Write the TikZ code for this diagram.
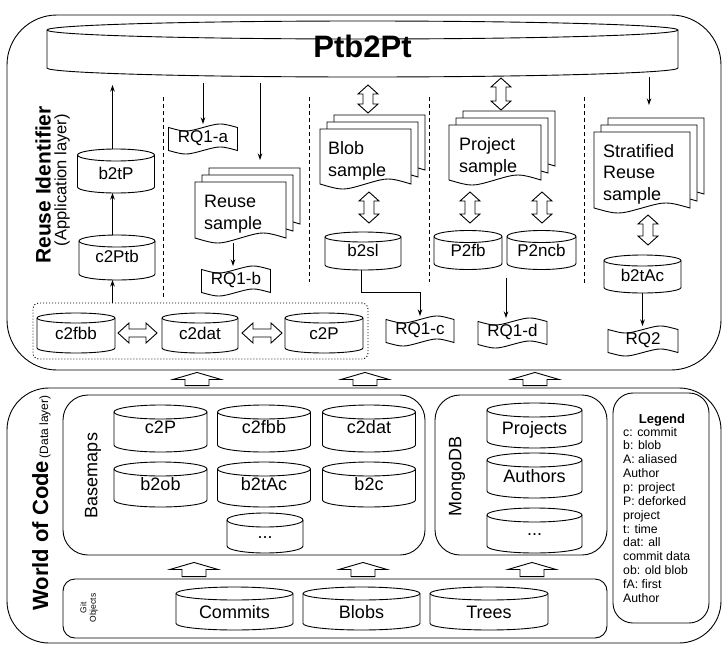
\documentclass[tikz,border=0pt]{standalone}
\usepackage{fontspec}
\setmainfont{Liberation Sans}
\usetikzlibrary{calc,arrows.meta}

\tikzset{
  lw/.style={line width=0.9pt},
  cylnode/.style={draw=none, inner sep=0pt, outer sep=0pt, rectangle},
  cyltext/.style={inner sep=0pt, text height=0.716em, text depth=0pt, anchor=center},
  appfont/.style={font=\fontsize{17}{20}\selectfont},
  datafont/.style={font=\fontsize{18}{21.7}\selectfont},
  arr/.style={line width=0.9pt, -{Stealth[length=6.5pt,width=4.5pt]}},
  hollow/.style={line width=0.9pt, fill=white, line join=miter},
  sepline/.style={line width=0.9pt, dash pattern=on 4pt off 3pt},
  bigbox/.style={draw, line width=0.9pt, rectangle, inner sep=0pt},
  doctext/.style={font=\fontsize{18}{21.7}\selectfont, align=left, anchor=north west, inner sep=0pt},
}

% cylinder: name, cx, cy, w, h, ry, text dy, style, text
\newcommand{\mydbcyl}[9]{%
  \node[cylnode, minimum width={#4*1pt}, minimum height={#5*1pt}] (#1) at (#2,#3) {};
  \filldraw[lw, fill=white] ({#2-#4/2},{#3-#5/2+#6}) -- ({#2-#4/2},{#3+#5/2-#6})
     arc[start angle=180, end angle=360, x radius={#4*0.5pt}, y radius={#6*1pt}]
     -- ({#2+#4/2},{#3-#5/2+#6})
     arc[start angle=0, end angle=180, x radius={#4*0.5pt}, y radius={#6*1pt}] -- cycle;
  \draw[lw] ({#2-#4/2},{#3-#5/2+#6}) arc[start angle=180, end angle=360, x radius={#4*0.5pt}, y radius={#6*1pt}];
  \node[cyltext, #8] (#1-t) at (#2,{#3+#7}) {#9};
}
% document sheet: x, y, w, h
\newcommand{\mydocsheet}[4]{%
  \filldraw[lw, fill=white] ({#1},{#2}) -- ({#1+#3},{#2}) -- ({#1+#3},{#2+#4-5})
    .. controls ({#1+0.75*#3},{#2+#4-11.7}) .. ({#1+0.5*#3},{#2+#4-5})
    .. controls ({#1+0.25*#3},{#2+#4+1.7}) .. ({#1},{#2+#4-5}) -- cycle;}
% multi document: name, x, y, w, h of front sheet
\newcommand{\mymultidoc}[5]{%
  \mydocsheet{#2+14}{#3-14}{#4}{#5}
  \mydocsheet{#2+7}{#3-7}{#4}{#5}
  \mydocsheet{#2}{#3}{#4}{#5}
  \node[cylnode, minimum width={(#4+14)*1pt}, minimum height={(#5+14)*1pt}] (#1) at ({#2+(#4+14)/2},{#3-14+(#5+14)/2}) {};}
% tape: name, cx, cy, w, text
\newcommand{\mytape}[5]{%
  \filldraw[lw, fill=white] ({#2-#4/2},{#3-11.5}) .. controls ({#2-#4/4},{#3-6.8}) .. ({#2},{#3-11.5})
    .. controls ({#2+#4/4},{#3-16.2}) .. ({#2+#4/2},{#3-11.5}) -- ({#2+#4/2},{#3+11.5})
    .. controls ({#2+#4/4},{#3+6.8}) .. ({#2},{#3+11.5})
    .. controls ({#2-#4/4},{#3+16.2}) .. ({#2-#4/2},{#3+11.5}) -- cycle;
  \node[cylnode, minimum width={#4*1pt}, minimum height=30pt, appfont, text height=0.716em, text depth=0pt] (#1) at (#2,#3) {#5};}
% vertical hollow double arrow: top tip, bottom tip
\newcommand{\myvdbl}[2]{%
  \filldraw[hollow] let \p1=(#1), \p2=(#2) in
    (\x1,\y1) -- (\x1+10pt,\y1-9pt) -- (\x1+5pt,\y1-9pt) -- (\x1+5pt,\y2+9pt) -- (\x1+10pt,\y2+9pt)
    -- (\x1,\y2) -- (\x1-10pt,\y2+9pt) -- (\x1-5pt,\y2+9pt) -- (\x1-5pt,\y1-9pt) -- (\x1-10pt,\y1-9pt) -- cycle;}
% horizontal hollow double arrow: left tip, right tip
\newcommand{\myhdbl}[2]{%
  \filldraw[hollow] let \p1=(#1), \p2=(#2) in
    (\x1,\y1) -- (\x1+11pt,\y1+10pt) -- (\x1+11pt,\y1+4pt) -- (\x2-11pt,\y1+4pt) -- (\x2-11pt,\y1+10pt)
    -- (\x2,\y1) -- (\x2-11pt,\y1-10pt) -- (\x2-11pt,\y1-4pt) -- (\x1+11pt,\y1-4pt) -- (\x1+11pt,\y1-10pt) -- cycle;}
% hollow up arrow: bottom point, top point
\newcommand{\myuparr}[2]{%
  \filldraw[hollow] let \p1=(#1), \p2=(#2) in
    (\x2,\y2-2pt) -- (\x2+24pt,\y2-9pt) -- (\x2+12pt,\y2-9pt) -- (\x2+12pt,\y1+2pt)
    -- (\x2-12pt,\y1+2pt) -- (\x2-12pt,\y2-9pt) -- (\x2-24pt,\y2-9pt) -- cycle;}

\begin{document}
\begin{tikzpicture}[x=1pt,y=-1pt]
\useasboundingbox (0,0) rectangle (726,651);

% ---------- containers ----------
\node[bigbox, rounded corners=50pt, minimum width=714pt, minimum height=355pt] (ri) at (364,192.5) {};
\node[bigbox, rounded corners=42pt, minimum width=714pt, minimum height=255pt] (woc) at (364,515.5) {};
\node[bigbox, rounded corners=25pt, minimum width=362pt, minimum height=160pt] (basemaps) at (244,475) {};
\node[bigbox, rounded corners=25pt, minimum width=172pt, minimum height=160pt] (mongo) at (521,475) {};
\node[bigbox, rounded corners=20pt, minimum width=96pt, minimum height=230pt] (legendbox) at (661,508) {};
\node[bigbox, rounded corners=12pt, minimum width=544pt, minimum height=59pt] (gitobj) at (335,608.5) {};
\node[bigbox, rounded corners=6pt, dash pattern=on 1pt off 2pt, minimum width=335pt, minimum height=56pt] (grp) at (200.5,331) {};

% ---------- layer labels ----------
\node[rotate=90, font=\fontsize{21}{25}\selectfont\bfseries] (rilabel) at (43,185) {Reuse Identifier};
\node[rotate=90, font=\fontsize{16.5}{20}\selectfont] (rilabel2) at (62,180) {(Application layer)};
\node[rotate=90] (woclabel) at (41.5,503) {{\fontsize{22}{26}\selectfont\bfseries World of Code} {\fontsize{12}{14}\selectfont(Data layer)}};
\node[rotate=90, datafont] (bmlabel) at (93,475.5) {Basemaps};
\node[rotate=90, datafont] (mglabel) at (457,476) {MongoDB};
\node[rotate=90, align=center, font=\fontsize{8.5}{9.5}\selectfont] (gitlabel) at (89,608) {Git\\Objects};

% ---------- separators ----------
\draw[sepline] (163,97) -- (163,298);
\draw[sepline] (309,97) -- (309,282);
\draw[sepline] (429,97) -- (429,282);
\draw[sepline] (584,97) -- (584,283);

% ---------- application layer ----------
\mydbcyl{ptb}{362.5}{49}{631}{56}{9}{5}{font=\fontsize{31}{36}\selectfont\bfseries}{Ptb2Pt}

\mydbcyl{btp}{116}{171}{77}{44}{6}{4.5}{appfont}{b2tP}
\mydbcyl{cptb}{117}{257.5}{76}{45}{6}{1.5}{appfont}{c2Ptb}
\mydbcyl{cfbb}{76}{333}{78}{40}{5}{2.5}{appfont}{c2fbb}
\mydbcyl{cdat}{200}{333}{76}{40}{5}{2.5}{appfont}{c2dat}
\mydbcyl{cp}{324}{333}{78}{40}{5}{2.5}{appfont}{c2P}
\mydbcyl{bsl}{363}{251}{76}{38}{5}{2.3}{appfont}{b2sl}
\mydbcyl{pfb}{468}{250}{68}{39}{6}{3}{appfont}{P2fb}
\mydbcyl{pncb}{541.5}{250}{69}{39}{6}{3}{appfont}{P2ncb}
\mydbcyl{btac}{642.5}{274}{77}{38}{5.5}{4}{appfont}{b2tAc}

\mymultidoc{reuse}{195}{182}{91}{61}
\mymultidoc{blob}{320}{129}{91}{60}
\mymultidoc{project}{449}{125}{92}{60}
\mymultidoc{strat}{594}{132}{96}{81}
\node[doctext] (reuse-t) at (204,195) {Reuse\\sample};
\node[doctext] (blob-t) at (328,141.7) {Blob\\sample};
\node[doctext] (project-t) at (459,137.7) {Project\\sample};
\node[doctext] (strat-t) at (603,144) {Stratified\\Reuse\\sample};

\mytape{rqa}{203}{139}{69}{RQ1-a}
\mytape{rqb}{236}{281}{69}{RQ1-b}
\mytape{rqc}{420}{331}{68}{RQ1-c}
\mytape{rqd}{512.5}{333}{69}{RQ1-d}
\mytape{rqtwo}{643}{341}{70}{RQ2}

% thin arrows
\draw[arr] ([xshift=-3.5pt]btp.north) -- ($(ptb.south -| btp.north)+(-3.5,8)$);
\draw[arr] ([xshift=-4.5pt]cptb.north) -- ([xshift=-3.5pt]btp.south);
\draw[arr] ($(grp.north -| cptb.south)+(-4.5,0)$) -- ([xshift=-4.5pt]cptb.south);
\draw[arr] ($(ptb.south -| rqa.north)+(0,6)$) -- (rqa.north);
\draw[arr] ($(ptb.south -| reuse.north)+(12.5,6)$) -- ([xshift=12.5pt,yshift=8pt]reuse.north);
\draw[arr] ([xshift=-14.5pt]reuse.south) -- ($(rqb.north)+(-3,0)$);
\draw[arr] ([xshift=-2pt]bsl.south) -- ++(0,22) -| (rqc.north);
\coordinate (pd) at ($(pfb.south east)!0.5!(pncb.south west)+(1.5,8)$);
\draw[arr] (pd) -- (pd |- rqd.north);
\draw[arr] (ptb.south -| strat.north) -- ([yshift=13pt]strat.north);
\draw[arr] (btac.south) -- (btac.south |- rqtwo.north);

% hollow double arrows
\myvdbl{$(ptb.south -| blob.north)+(-4.5,8)$}{$(blob.north)+(-4.5,-2)$}
\myvdbl{$(blob.south)+(-3.5,3)$}{$(bsl.north)+(6,-9)$}
\myvdbl{$(ptb.south -| project.north)+(-1,1)$}{$(project.north)+(-1,-1)$}
\myvdbl{$(project.south -| pfb.north)+(2,7)$}{$(pfb.north)+(2,-7.5)$}
\myvdbl{$(project.south -| pncb.north)+(0.5,7)$}{$(pncb.north)+(0.5,-7.5)$}
\myvdbl{$(strat.south)+(-1,2)$}{$(btac.north)+(5.5,-10)$}
\myhdbl{$(cfbb.east)+(3,0)$}{$(cdat.west)+(-5,0)$}
\myhdbl{$(cdat.east)+(4,0)$}{$(cp.west)+(-3,0)$}

% ---------- data layer ----------
\mydbcyl{dcp}{160.5}{428.5}{93}{47}{7}{1.5}{datafont}{c2P}
\mydbcyl{dcfbb}{264}{428.5}{93}{47}{7}{1.5}{datafont}{c2fbb}
\mydbcyl{dcdat}{369}{428.5}{93}{47}{7}{1.5}{datafont}{c2dat}
\mydbcyl{dbob}{160.5}{484.5}{93}{45}{7}{2}{datafont}{b2ob}
\mydbcyl{dbtac}{264}{484.5}{93}{45}{7}{2}{datafont}{b2tAc}
\mydbcyl{dbc}{369}{484.5}{93}{45}{7}{2}{datafont}{b2c}
\mydbcyl{ddots}{265}{533}{76}{40}{7}{2.3}{datafont}{...}
\mydbcyl{proj}{534.5}{425.5}{95}{45}{7}{5}{datafont}{Projects}
\mydbcyl{auth}{534.5}{475.5}{95}{45}{7}{3}{datafont}{Authors}
\mydbcyl{mdots}{534.5}{530.5}{95}{45}{7}{1}{datafont}{...}
\mydbcyl{commits}{234.5}{608.5}{117}{43}{6.5}{6.5}{datafont}{Commits}
\mydbcyl{blobs}{361.5}{608.5}{117}{43}{6.5}{6.5}{datafont}{Blobs}
\mydbcyl{trees}{489}{608.5}{118}{43}{6.5}{6.5}{datafont}{Trees}

% hollow up arrows
\coordinate (ua1) at (197,380);
\coordinate (ua2) at (365,380);
\coordinate (ua3) at (535,380);
\coordinate (ub1) at (194,570);
\coordinate (ub2) at (363,570);
\coordinate (ub3) at (532,570);
\myuparr{ua1 |- woc.north}{ua1 |- ri.south}
\myuparr{ua2 |- woc.north}{ua2 |- ri.south}
\myuparr{ua3 |- woc.north}{ua3 |- ri.south}
\myuparr{ub1 |- gitobj.north}{$(ub1 |- basemaps.south)+(0,5)$}
\myuparr{ub2 |- gitobj.north}{$(ub2 |- basemaps.south)+(0,5)$}
\myuparr{ub3 |- gitobj.north}{$(ub3 |- mongo.south)+(0,5)$}

% ---------- legend ----------
\node[font=\fontsize{13}{15}\selectfont\bfseries, anchor=base] (legtitle) at (662,423) {Legend};
\node[anchor=north west, align=left, inner sep=0pt, font=\fontsize{12.3}{13.85}\selectfont] (legbody) at (623,427) {c: commit\\b: blob\\A: aliased\\Author\\p: project\\P: deforked\\project\\t: time\\dat: all\\commit data\\ob: old blob\\fA: first\\Author};

\end{tikzpicture}
\end{document}
